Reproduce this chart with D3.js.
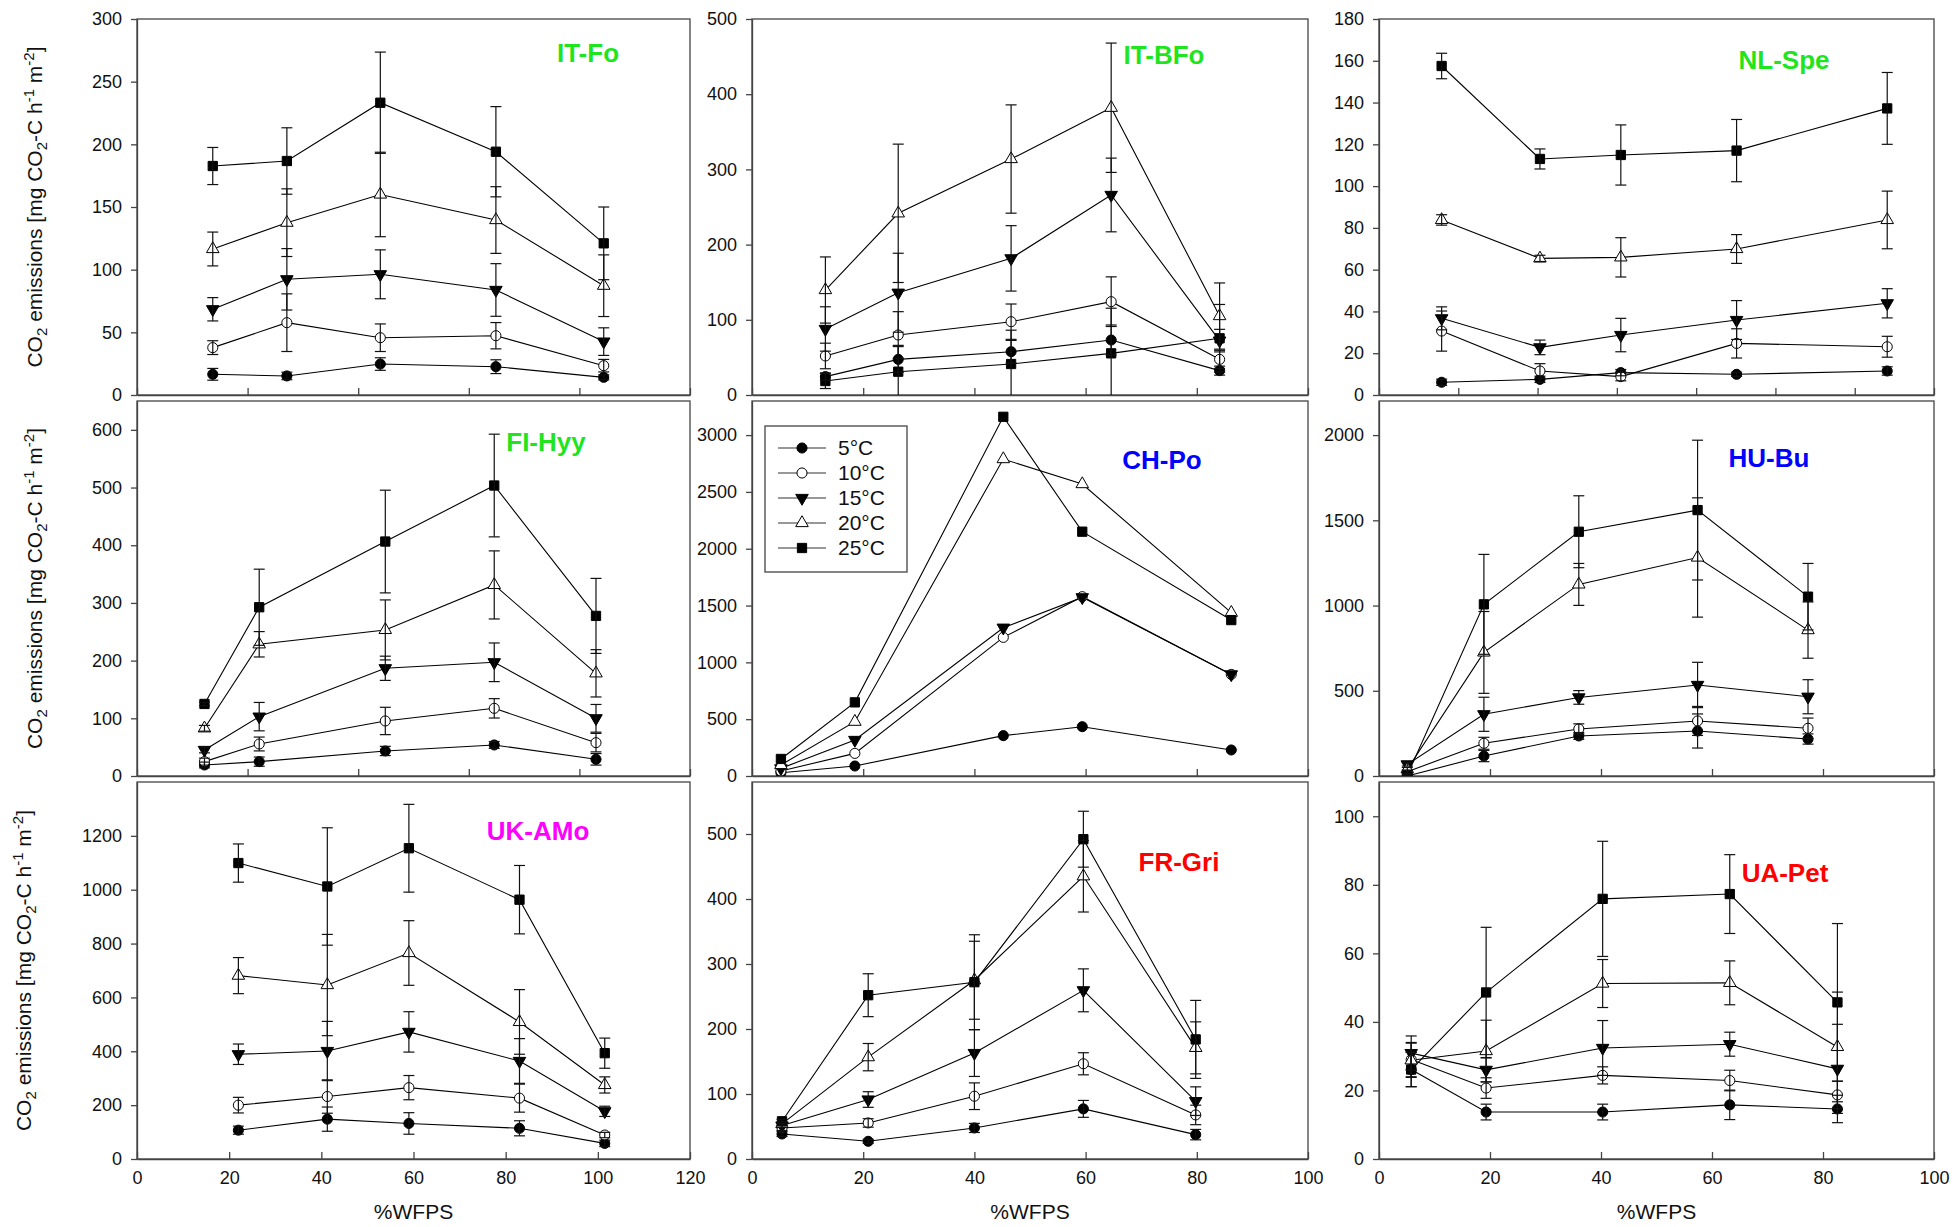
<!DOCTYPE html>
<html>
<head>
<meta charset="utf-8">
<script src="https://cdn.jsdelivr.net/npm/d3@7"></script>
<style>
  body { margin: 0; background: #fff; }
  text { font-family: "Liberation Sans", Arial, sans-serif; fill: #111; }
</style>
</head>
<body>
<svg id="chart"></svg>
<script>
// temperatures (one series each)
const temps = ['5°C', '10°C', '15°C', '20°C', '25°C'];

// %WFPS of the five points per site
const itFoX = [13.7, 27.1, 44.0, 64.9, 84.4];
const itBFoX = [13.2, 26.3, 46.6, 64.6, 84.1];
const nlSpeX = [15.8, 40.6, 61.0, 90.2, 128.2];
const fiHyyX = [12.2, 22.1, 44.9, 64.6, 83.0];
const chPoX = [5.2, 18.5, 45.2, 59.4, 86.2];
const huBuX = [5.1, 18.9, 36.0, 57.4, 77.3];
const ukAMoX = [22.0, 41.3, 59.0, 83.0, 101.5];
const frGriX = [5.4, 20.9, 40.0, 59.6, 79.8];
const uaPetX = [5.8, 19.3, 40.3, 63.2, 82.6];

// CO2 emissions, one row per temperature (5,10,15,20,25 °C)
const itFoY = [
  [16.5, 15.2, 24.7, 22.6, 14.1],
  [37.8, 57.7, 45.7, 47.3, 23.4],
  [68.4, 92.3, 96.3, 83.8, 42.6],
  [116.5, 137.5, 160, 139.6, 87.2],
  [182.7, 186.7, 233.2, 194.1, 121]
];
const itFoE = [
  [4.7, 3, 5, 5.5, 2],
  [5.5, 23, 11, 10.5, 5],
  [9.3, 24.5, 19.5, 21, 11],
  [13.5, 27, 33.7, 26.6, 24.6],
  [14.8, 26.5, 40.4, 36, 29]
];
const itBFoY = [
  [24.4, 47.4, 57.6, 73.1, 32.4],
  [51.9, 79.8, 97.5, 124.1, 47.4],
  [87.8, 136, 181.7, 266, 72.3],
  [139.6, 241.6, 313.8, 382, 105],
  [18.6, 31, 41.2, 55.4, 75.4]
];
const itBFoE = [
  [5, 17, 15, 20, 6],
  [17, 31, 23.5, 33, 12],
  [29.5, 52.5, 43.5, 49, 15],
  [44, 92, 72, 86, 44],
  [10, 35, 45, 60, 45]
];
const nlSpeY = [
  [6.1, 7.5, 10.7, 9.9, 11.5],
  [30.6, 11.5, 8.8, 24.7, 23.1],
  [36.7, 22.8, 28.7, 35.9, 43.9],
  [83.8, 65.4, 65.9, 69.9, 83.8],
  [157.5, 113, 114.9, 117, 137.2]
];
const nlSpeE = [
  [1.5, 1.5, 1.5, 1, 2],
  [9.6, 3.5, 2, 7, 5],
  [5.5, 3.5, 8, 9.3, 7],
  [2.5, 1.5, 9.4, 6.9, 13.8],
  [6.1, 4.8, 14.4, 14.9, 17.2]
];
const fiHyyY = [
  [19.1, 24.9, 43.4, 53.8, 28.9],
  [24.9, 55.5, 95.4, 117.3, 57.8],
  [45.1, 102.9, 186.7, 197.1, 100],
  [82.7, 228.3, 253.2, 331.2, 178],
  [124.9, 292.5, 406.4, 503.5, 277.5]
];
const fiHyyE = [
  [5, 8, 8, 6, 10],
  [6, 12, 23.7, 16.8, 16],
  [5, 24.6, 21, 33.5, 24],
  [5, 22, 52, 59, 41],
  [3, 66, 89, 89, 65]
];
const chPoY = [
  [29, 88, 355, 434, 229],
  [44, 199, 1220, 1578, 894],
  [67, 317, 1305, 1572, 894],
  [97, 478, 2789, 2569, 1437],
  [150, 648, 3161, 2150, 1372]
];
const chPoE = [
  [0, 0, 0, 0, 0],
  [0, 0, 0, 0, 0],
  [0, 0, 0, 0, 0],
  [0, 0, 0, 0, 0],
  [0, 0, 0, 0, 0]
];
const huBuY = [
  [0, 117, 235, 264, 217],
  [25, 192, 276, 323, 280],
  [68, 362, 461, 534, 465],
  [40, 725, 1124, 1282, 856],
  [5, 1007, 1433, 1560, 1052]
];
const huBuE = [
  [5, 33, 20, 100, 30],
  [10, 35, 30, 85, 60],
  [10, 100, 40, 133, 100],
  [10, 240, 123, 350, 165],
  [5, 293, 211, 410, 195]
];
const ukAMoY = [
  [107, 148, 132, 114, 58],
  [200, 232, 265, 226, 89],
  [389, 401, 472, 364, 177],
  [681, 646, 765, 509, 275],
  [1099, 1012, 1154, 963, 393]
];
const ukAMoE = [
  [15, 45, 40, 28, 12],
  [29, 62, 45, 52, 10],
  [38, 110, 75, 83, 19],
  [67, 188, 120, 120, 30],
  [71, 218, 163, 127, 56]
];
const frGriY = [
  [38.5, 27.2, 47.8, 77.1, 37.5],
  [47.8, 55.5, 96.6, 146.5, 67.8],
  [51.4, 91.5, 163, 259.5, 89],
  [54, 156.7, 275, 435, 171],
  [58, 252, 272, 492, 184]
];
const frGriE = [
  [4, 3, 7, 13, 8],
  [4, 6.5, 20.5, 17, 15],
  [3, 12, 36, 33, 22],
  [3, 21, 60, 55, 40],
  [3, 33, 73, 43, 60]
];
const uaPetY = [
  [26.1, 13.7, 13.7, 15.8, 14.6],
  [29, 20.7, 24.4, 22.9, 18.7],
  [30.9, 26, 32.4, 33.5, 26.3],
  [28.8, 31.5, 51.2, 51.4, 32.7],
  [26.1, 48.6, 75.9, 77.3, 45.7]
];
const uaPetE = [
  [5, 2.3, 2.3, 4.3, 4],
  [5, 3, 2.5, 3, 4],
  [5, 3.5, 8, 3.5, 13],
  [5, 9, 7, 6.4, 16],
  [5, 19, 16.8, 11.5, 23]
];

const green = '#1fe51f';
const width = 1954;
const height = 1227;

const cols = [[137, 690], [752, 1308], [1379, 1934]];
const rows = [[19, 395], [401, 776], [782, 1159]];

const panels = [
  { site: 'IT-Fo', col: 0, row: 0, x: itFoX, y: itFoY, e: itFoE, xMax: 100, yMax: 300, yTop: 300, yStep: 50, colour: green, lx: 451, ly: 34 },
  { site: 'IT-BFo', col: 1, row: 0, x: itBFoX, y: itBFoY, e: itBFoE, xMax: 100, yMax: 500, yTop: 500, yStep: 100, colour: green, lx: 412, ly: 36 },
  { site: 'NL-Spe', col: 2, row: 0, x: nlSpeX, y: nlSpeY, e: nlSpeE, xMax: 140, yMax: 180, yTop: 180, yStep: 20, colour: green, lx: 405, ly: 41 },
  { site: 'FI-Hyy', col: 0, row: 1, x: fiHyyX, y: fiHyyY, e: fiHyyE, xMax: 100, yMax: 650, yTop: 600, yStep: 100, colour: green, lx: 409, ly: 41 },
  { site: 'CH-Po', col: 1, row: 1, x: chPoX, y: chPoY, e: chPoE, xMax: 100, yMax: 3300, yTop: 3000, yStep: 500, colour: '#0000ff', lx: 410, ly: 59, legend: true },
  { site: 'HU-Bu', col: 2, row: 1, x: huBuX, y: huBuY, e: huBuE, xMax: 100, yMax: 2200, yTop: 2000, yStep: 500, colour: '#0000ff', lx: 390, ly: 57 },
  { site: 'UK-AMo', col: 0, row: 2, x: ukAMoX, y: ukAMoY, e: ukAMoE, xMax: 120, yMax: 1400, yTop: 1200, yStep: 200, colour: '#ff00ff', lx: 401, ly: 49 },
  { site: 'FR-Gri', col: 1, row: 2, x: frGriX, y: frGriY, e: frGriE, xMax: 100, yMax: 580, yTop: 500, yStep: 100, colour: '#ff0000', lx: 427, ly: 80 },
  { site: 'UA-Pet', col: 2, row: 2, x: uaPetX, y: uaPetY, e: uaPetE, xMax: 100, yMax: 110, yTop: 100, yStep: 20, colour: '#ff0000', lx: 406, ly: 91 }
];

// symbol per temperature
const markers = [
  { type: d3.symbolCircle, size: 80, fill: '#000', rot: 0 },
  { type: d3.symbolCircle, size: 80, fill: '#fff', rot: 0 },
  { type: d3.symbolTriangle, size: 68, fill: '#000', rot: 180 },
  { type: d3.symbolTriangle, size: 68, fill: '#fff', rot: 0 },
  { type: d3.symbolSquare, size: 86, fill: '#000', rot: 0 }
];

const svg = d3.select('#chart').attr('width', width).attr('height', height);
const frameColour = '#444';

panels.forEach((p, pi) => {
  const [x0, x1] = cols[p.col];
  const [y0, y1] = rows[p.row];
  const x = d3.scaleLinear().domain([0, p.xMax]).range([x0, x1]);
  const y = d3.scaleLinear().domain([0, p.yMax]).range([y1, y0]);

  const g = svg.append('g').attr('class', 'panel');

  g.append('clipPath').attr('id', 'clip' + pi)
    .append('rect').attr('x', x0).attr('y', y0).attr('width', x1 - x0).attr('height', y1 - y0);

  // frame
  g.append('rect')
    .attr('x', x0).attr('y', y0)
    .attr('width', x1 - x0).attr('height', y1 - y0)
    .attr('fill', 'none').attr('stroke', frameColour).attr('stroke-width', 1.3);

  // y axis
  const yAxis = d3.axisLeft(y)
    .tickValues(d3.range(0, p.yTop + 1, p.yStep))
    .tickFormat(d3.format('d'))
    .tickSizeInner(6).tickSizeOuter(0).tickPadding(9);
  const ya = g.append('g').attr('transform', `translate(${x0},0)`).call(yAxis);
  ya.select('.domain').attr('stroke', frameColour).attr('stroke-width', 1.3);
  ya.selectAll('.tick line').attr('stroke', frameColour).attr('stroke-width', 1.3);
  ya.selectAll('.tick text').attr('font-size', 18).attr('fill', '#111');

  // x axis, ticks pointing inward
  const xAxis = d3.axisBottom(x)
    .tickValues(d3.range(0, p.xMax + 1, 20))
    .tickSizeInner(-7).tickSizeOuter(0).tickPadding(12)
    .tickFormat(p.row === 2 ? d3.format('d') : '');
  const xa = g.append('g').attr('transform', `translate(0,${y1})`).call(xAxis);
  xa.select('.domain').attr('stroke', frameColour).attr('stroke-width', 1.3);
  xa.selectAll('.tick line').attr('stroke', frameColour).attr('stroke-width', 1.3);
  xa.selectAll('.tick text').attr('font-size', 18).attr('fill', '#111');

  const plot = g.append('g').attr('clip-path', `url(#clip${pi})`);
  const line = d3.line().x((d) => x(d[0])).y((d) => y(d[1]));

  p.y.forEach((vals) => {
    plot.append('path')
      .datum(vals.map((v, i) => [p.x[i], v]))
      .attr('d', line)
      .attr('fill', 'none')
      .attr('stroke', '#000')
      .attr('stroke-width', 1.1);
  });

  p.y.forEach((vals, ti) => {
    const m = markers[ti];
    const sym = d3.symbol().type(m.type).size(m.size);
    plot.selectAll(null)
      .data(vals.map((v, i) => [p.x[i], v]))
      .enter()
      .append('path')
      .attr('d', sym)
      .attr('transform', (d) => `translate(${x(d[0])},${y(d[1])}) rotate(${m.rot})`)
      .attr('fill', m.fill)
      .attr('stroke', '#000')
      .attr('stroke-width', 1);
  });

  // error bars
  p.y.forEach((vals, ti) => {
    const pts = vals.map((v, i) => [p.x[i], v, p.e[ti][i]]).filter((d) => d[2] > 0);
    const eb = plot.selectAll(null).data(pts).enter().append('g')
      .attr('stroke', '#111').attr('stroke-width', 1.2);
    eb.append('line')
      .attr('x1', (d) => x(d[0])).attr('x2', (d) => x(d[0]))
      .attr('y1', (d) => y(d[1] - d[2])).attr('y2', (d) => y(d[1] + d[2]));
    eb.append('line')
      .attr('x1', (d) => x(d[0]) - 5.5).attr('x2', (d) => x(d[0]) + 5.5)
      .attr('y1', (d) => y(d[1] + d[2])).attr('y2', (d) => y(d[1] + d[2]));
    eb.append('line')
      .attr('x1', (d) => x(d[0]) - 5.5).attr('x2', (d) => x(d[0]) + 5.5)
      .attr('y1', (d) => y(d[1] - d[2])).attr('y2', (d) => y(d[1] - d[2]));
  });

  // site label
  g.append('text')
    .attr('x', x0 + p.lx).attr('y', y0 + p.ly).attr('dy', '0.35em')
    .attr('text-anchor', 'middle')
    .attr('font-size', 26).attr('font-weight', 'bold')
    .style('fill', p.colour)
    .text(p.site);

  // y title in the first column
  if (p.col === 0) {
    const tx = p.row === 2 ? 31 : 42;
    const ty = (y0 + y1) / 2;
    const t = g.append('text')
      .attr('transform', `translate(${tx},${ty}) rotate(-90)`)
      .attr('text-anchor', 'middle')
      .attr('font-size', 21);
    t.append('tspan').text('CO');
    t.append('tspan').text('2').attr('font-size', 15).attr('dy', 5);
    t.append('tspan').text(' emissions [mg CO').attr('dy', -5);
    t.append('tspan').text('2').attr('font-size', 15).attr('dy', 5);
    t.append('tspan').text('-C h').attr('dy', -5);
    t.append('tspan').text('-1').attr('font-size', 15).attr('dy', -8);
    t.append('tspan').text(' m').attr('dy', 8);
    t.append('tspan').text('-2').attr('font-size', 15).attr('dy', -8);
    t.append('tspan').text(']').attr('dy', 8);
  }

  // x title in the bottom row
  if (p.row === 2) {
    g.append('text')
      .attr('x', (x0 + x1) / 2).attr('y', 1212).attr('dy', '0.35em')
      .attr('text-anchor', 'middle')
      .attr('font-size', 21)
      .text('%WFPS');
  }

  if (p.legend) {
    const lg = g.append('g').attr('transform', `translate(${x0 + 13},${y0 + 25})`);
    lg.append('rect')
      .attr('width', 142).attr('height', 146)
      .attr('fill', '#fff').attr('stroke', frameColour).attr('stroke-width', 1.3);
    temps.forEach((t, ti) => {
      const m = markers[ti];
      const ly = 22 + ti * 25;
      lg.append('line')
        .attr('x1', 13).attr('x2', 61).attr('y1', ly).attr('y2', ly)
        .attr('stroke', '#333').attr('stroke-width', 1.1);
      lg.append('path')
        .attr('d', d3.symbol().type(m.type).size(m.size)())
        .attr('transform', `translate(37,${ly}) rotate(${m.rot})`)
        .attr('fill', m.fill).attr('stroke', '#000').attr('stroke-width', 1);
      lg.append('text')
        .attr('x', 73).attr('y', ly).attr('dy', '0.35em')
        .attr('font-size', 21)
        .text(t);
    });
  }
});
</script>
</body>
</html>
